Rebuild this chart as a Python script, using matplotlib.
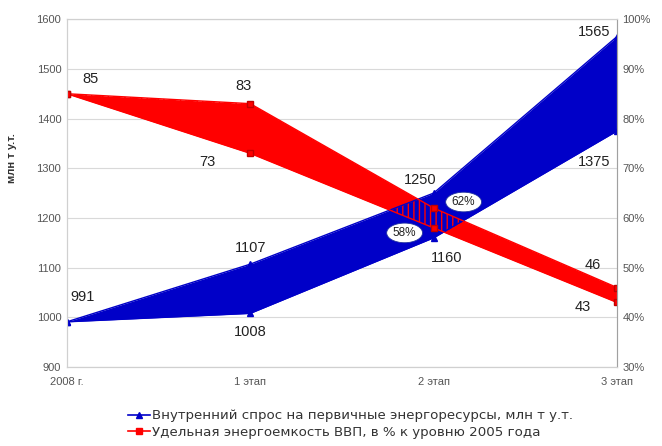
import matplotlib
matplotlib.use('Agg')
import matplotlib.pyplot as plt

plt.rcParams['font.family'] = ['Liberation Sans', 'DejaVu Sans']

stages = ['2008 г.', '1 этап', '2 этап', '3 этап']
demand_low = [991, 1008, 1160, 1375]
demand_high = [991, 1107, 1250, 1565]
intensity_high = [85, 83, 62, 46]
intensity_low = [85, 73, 58, 43]

demand_label = 'Внутренний спрос на первичные энергоресурсы, млн т у.т.'
intensity_label = 'Удельная энергоемкость ВВП, в % к уровню 2005 года'

blue = '#0000c8'
red = '#ff0000'

x = list(range(len(stages)))

fig = plt.figure(figsize=(6.62, 4.46), dpi=100)
ax = fig.add_axes([0.101, 0.177, 0.831, 0.780])
ax2 = ax.twinx()

# красная полоса (правая ось), синяя поверх, затем штриховка в пересечении
ax.set_zorder(1)
ax2.set_zorder(2)
ax.patch.set_visible(False)
ax2.patch.set_visible(False)

ax.set_ylim(900, 1600)
ax.set_xlim(0, 3)
ax2.set_ylim(30, 100)

ax.fill_between(x, intensity_low, intensity_high, color=red, lw=0,
                transform=ax2.transData, zorder=1)
ax.fill_between(x, demand_low, demand_high, color=blue, lw=0, zorder=2)
ax.fill_between(x, intensity_low, intensity_high, facecolor='none', edgecolor=red,
                hatch='|||', lw=0, transform=ax2.transData, zorder=3)
ax.plot(x, demand_low, color=blue, marker='^', ms=5, lw=1, zorder=4)
ax.plot(x, demand_high, color=blue, marker='^', ms=5, lw=1, zorder=4)
ax.plot(x, intensity_high, color=red, marker='s', ms=5, lw=1, zorder=4,
        mec='#c00000', transform=ax2.transData)
ax.plot(x, intensity_low, color=red, marker='s', ms=5, lw=1, zorder=4,
        mec='#c00000', transform=ax2.transData)

ax.set_yticks(range(900, 1601, 100))
ax2.set_yticks(range(30, 101, 10))
ax2.set_yticklabels(['%d%%' % v for v in range(30, 101, 10)])
ax.set_xticks(x)
ax.set_xticklabels(stages)
ax.grid(axis='y', color='#d9d9d9', lw=0.8)
ax.set_axisbelow(True)

for a in (ax, ax2):
    a.tick_params(labelsize=8, colors='#555555', length=0, pad=4)
    for s in a.spines.values():
        s.set_color('#d0d0d0')
ax2.spines['right'].set_color('#a0a0a0')
ax.tick_params(axis='x', pad=7)
ax.set_ylabel('млн т у.т.', fontsize=8, color='#333333', fontweight='bold')
ax.yaxis.set_label_coords(-0.09, 0.6)

# подписи значений (смещения в пикселях)
label_offsets_demand_low = [(16, 25), (0, -19), (13, -20), (-23, -31)]
label_offsets_demand_high = [None, (0, 16), (-13, 13), (-23, 5)]
label_offsets_int_high = [(24, 15), (-7, 18), (30, 6), (-24, 23)]
label_offsets_int_low = [None, (-43, -9), (-29, -5), (-34, -5)]

def put_labels(axis, values, offsets, ellipse_idx=None):
    for i, (v, off) in enumerate(zip(values, offsets)):
        if off is None:
            continue
        t = axis.annotate('%d' % v, (x[i], v), xytext=off, textcoords='offset pixels',
                          ha='center', va='center', fontsize=10.5, color='#222222',
                          zorder=10, annotation_clip=False)
        if i == ellipse_idx:
            t.set_text('%d%%' % v)
            t.set_fontsize(8.5)
            t.set_bbox(dict(boxstyle='ellipse,pad=0.08', fc='white', ec='#2030a0', lw=0.6))

put_labels(ax, demand_low, label_offsets_demand_low)
put_labels(ax, demand_high, label_offsets_demand_high)
put_labels(ax2, intensity_high, label_offsets_int_high, ellipse_idx=2)
put_labels(ax2, intensity_low, label_offsets_int_low, ellipse_idx=2)

h1, = ax.plot([], [], color=blue, marker='^', ms=4, lw=1.2)
h2, = ax.plot([], [], color=red, marker='s', ms=4, lw=1.2)
fig.legend([h1, h2], [demand_label, intensity_label], loc='upper left',
           bbox_to_anchor=(0.183, 0.097), frameon=False,
           prop={'family': 'DejaVu Sans', 'size': 9.6},
           handlelength=1.7, handletextpad=0.1, labelspacing=0.25,
           borderpad=0, labelcolor='#333333')

fig.savefig('out.png', dpi=100)
